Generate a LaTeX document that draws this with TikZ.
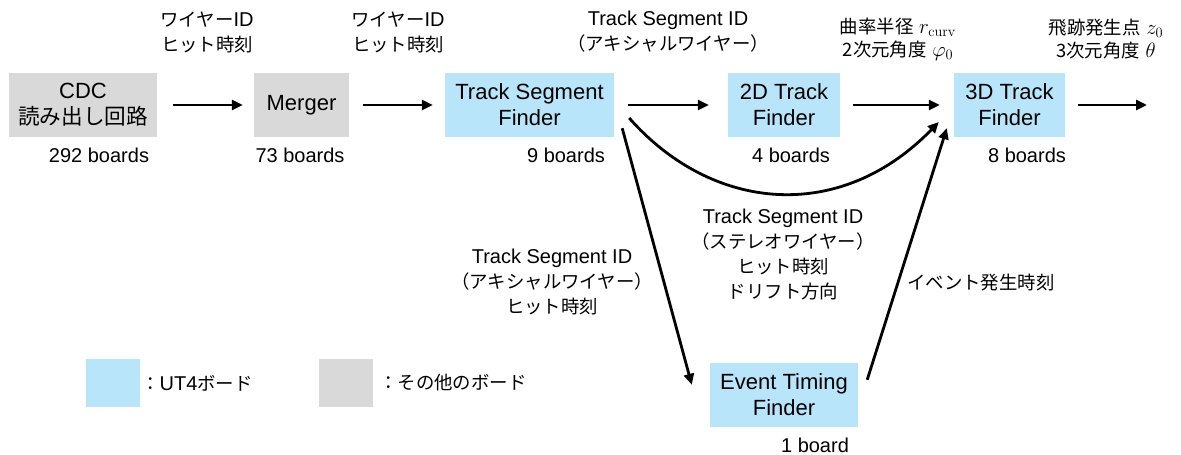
\documentclass[tikz,border=0pt]{standalone}
\usepackage[no-math]{fontspec}
\setmainfont{Liberation Sans}
\newfontfamily\jp[Scale=0.92]{Noto Sans CJK JP}
\usetikzlibrary{arrows.meta,calc}
\definecolor{ut4blue}{RGB}{185,229,251}
\definecolor{boardgray}{RGB}{217,217,217}
\tikzset{
  board/.style={inner sep=0pt, minimum height=64pt, align=center,
    font=\fontsize{22}{26}\selectfont},
  ut4board/.style={board, fill=ut4blue},
  otherboard/.style={board, fill=boardgray},
  tag/.style={inner sep=0pt, align=center, font=\fontsize{20}{25}\selectfont},
  count/.style={inner sep=0pt, font=\fontsize{20}{25}\selectfont},
  flow/.style={line width=2.8pt, -{Triangle[length=11pt,width=10pt]}},
}
\begin{document}
\begin{tikzpicture}[x=1pt,y=-1pt]
\useasboundingbox (0,0) rectangle (1181,455);

% boards
\node[otherboard, minimum width=148pt] (cdc) at (83,105)
  {CDC\\{\fontsize{23.5}{26}\selectfont\jp 読み出し回路}};
\node[otherboard, minimum width=95pt] (mrg) at (301.5,105) {Merger};
\node[ut4board, minimum width=169pt] (tsf) at (529.5,105) {Track Segment\\Finder};
\node[ut4board, minimum width=112pt] (twod) at (784,105) {2D Track\\Finder};
\node[ut4board, minimum width=111pt] (threed) at (1009.5,105) {3D Track\\Finder};
\node[ut4board, minimum width=148pt] (etf) at (784,395) {Event Timing\\Finder};

% board counts
\node[count] (ncdc) at (99,155) {292 boards};
\node[count] (nmrg) at (300,155) {73 boards};
\node[count] (ntsf) at (566,155) {9 boards};
\node[count] (ntwod) at (791,155) {4 boards};
\node[count] (nthreed) at (1027,155) {8 boards};
\node[count] (netf) at (815,445) {1 board};

% data labels
\node[tag] (l1) at (207,32) {{\jp ワイヤー}ID\\{\jp ヒット時刻}};
\node[tag] (l2) at (398,32) {{\jp ワイヤー}ID\\{\jp ヒット時刻}};
\node[tag] (l3) at (668,32) {Track Segment ID\\{\jp （アキシャルワイヤー）}};
\node[tag] (l4) at (898,39) {{\jp 曲率半径} $r_{\mathrm{curv}}$\\[-2pt]{\jp 2次元角度} $\varphi_0$};
\node[tag] (l5) at (1106,39) {{\jp 飛跡発生点} $z_0$\\[-2pt]{\jp 3次元角度} $\theta$};
\node[tag] (l6) at (783,255) {Track Segment ID\\{\jp （ステレオワイヤー）}\\{\jp ヒット時刻}\\{\jp ドリフト方向}};
\node[tag] (l7) at (552,282) {Track Segment ID\\{\jp （アキシャルワイヤー）}\\{\jp ヒット時刻}};
\node[tag, anchor=west] (l8) at (907,283) {\jp イベント発生時刻};

% connector ends
\coordinate (outc) at (1147,105);
\coordinate (tsfa) at ($(tsf.east)+(15,13)$);
\coordinate (tsfb) at ($(tsf.south east)+(8,-9)$);
\coordinate (tda) at ($(threed.west)+(-15,17)$);
\coordinate (tdb) at ($(threed.south west)+(-7,-9)$);
\coordinate (etfa) at ($(etf.north west)+(-18,22)$);
\coordinate (etfb) at ($(etf.north east)+(9,17)$);

% connectors
\draw[flow, shorten <=16pt, shorten >=11pt] (cdc) -- (mrg);
\draw[flow, shorten <=14pt, shorten >=12pt] (mrg) -- (tsf);
\draw[flow, shorten <=14pt, shorten >=19pt] (tsf) -- (twod);
\draw[flow, shorten <=13pt, shorten >=14pt] (twod) -- (threed);
\draw[flow, shorten <=13pt] (threed) -- (outc);
\draw[flow] (tsfa) .. controls (712,212) and (840,224) .. (tda);
\draw[flow] (tsfb) -- (etfa);
\draw[flow] (etfb) -- (tdb);

% legend
\node[ut4board, minimum width=54pt, minimum height=48pt] (legu) at (113,383) {};
\node[tag, anchor=west] (legut) at (141,383) {{\jp ：}UT4{\jp ボード}};
\node[otherboard, minimum width=54pt, minimum height=48pt] (lego) at (346,383) {};
\node[tag, anchor=west] (legot) at (379,383) {\jp ：その他のボード};
\end{tikzpicture}
\end{document}
